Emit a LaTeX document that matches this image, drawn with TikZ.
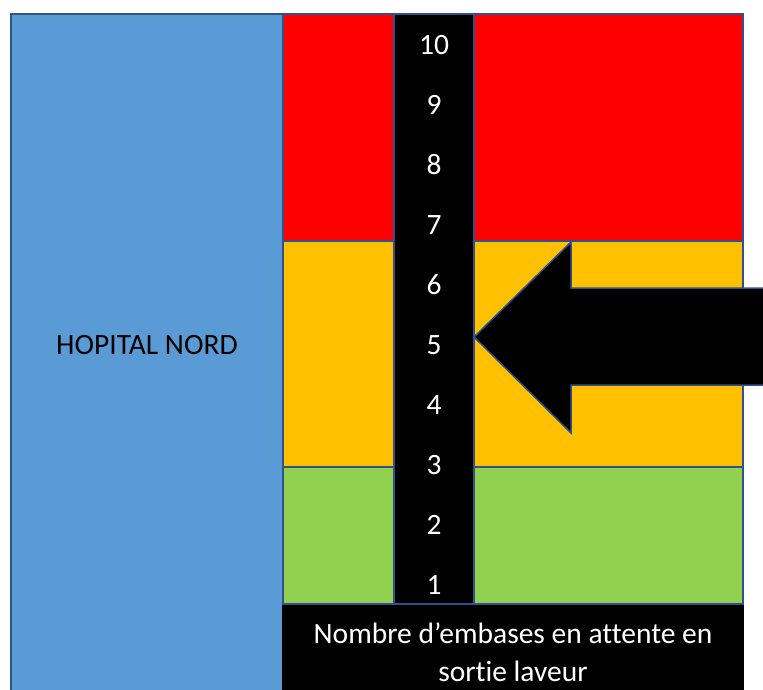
\documentclass[tikz,border=0pt]{standalone}
\usepackage{fontspec}
\setmainfont{Carlito}[Ligatures=NoCommon]
\definecolor{hblue}{HTML}{5B9BD5}
\definecolor{edge}{HTML}{2F528F}
\definecolor{zred}{HTML}{FF0000}
\definecolor{zorange}{HTML}{FFC000}
\definecolor{zgreen}{HTML}{92D050}
\begin{document}
\begin{tikzpicture}[x=1pt,y=-1pt,
  zone/.style={draw=edge,line width=1.5pt},
  numlbl/.style={text=white,font=\fontsize{29.5}{34}\selectfont},
  bigtxt/.style={font=\fontsize{29.5}{34}\selectfont}]
\useasboundingbox (0,0) rectangle (763,689);
\clip (0,0) rectangle (763,689);
\fill[white] (0,0) rectangle (763,689);
% hospital
\draw[zone,fill=hblue] (11,14) rectangle (283,700);
\node[bigtxt] (hop) at (147,345) {HOPITAL NORD};
% zones
\draw[zone,fill=zred] (283,14) rectangle (743,241);
\draw[zone,fill=zorange] (283,241) rectangle (743,467);
\draw[zone,fill=zgreen] (283,467) rectangle (743,604);
% column
\draw[zone,fill=black] (394,14) rectangle (474,604);
\foreach \i in {1,...,10}
  \node[numlbl] (n\i) at (434,{585-60*(\i-1)}) {\i};
% arrow
\coordinate (tip) at (474,337);
\draw[zone,fill=black,line join=miter] (tip) -- (571,242) -- (571,288) -- (775,288) -- (775,385) -- (571,385) -- (571,433) -- cycle;
% bottom label
\fill[black] (282,605) rectangle (744,700);
\node[bigtxt,text=white,anchor=base] (lbl1) at (513,643) {Nombre d’embases en attente en};
\node[bigtxt,text=white,anchor=base] (lbl2) at (513,681) {sortie laveur};
\end{tikzpicture}
\end{document}
